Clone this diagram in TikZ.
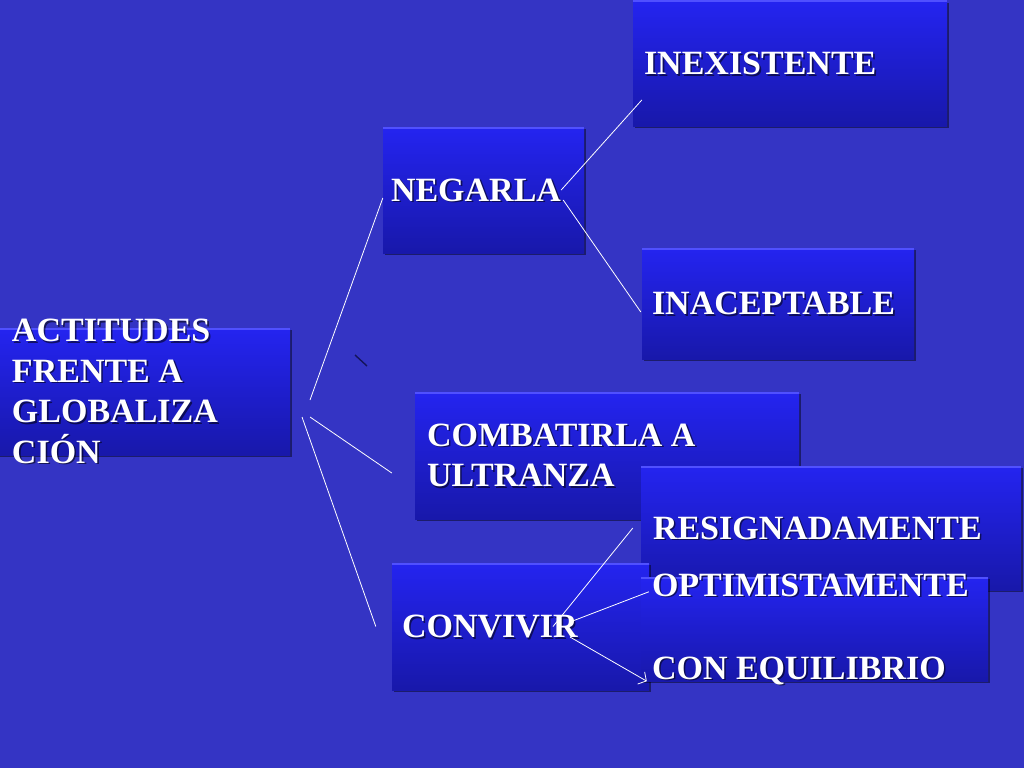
\documentclass[tikz,border=0pt]{standalone}
\usepackage{fontspec}
\setmainfont{Liberation Serif}
\usetikzlibrary{shadows,arrows.meta}

\definecolor{bg}{RGB}{52,52,196}
\definecolor{boxtop}{RGB}{36,36,240}
\definecolor{boxmid}{RGB}{32,32,226}
\definecolor{boxbot}{RGB}{24,24,170}
\definecolor{boxhi}{RGB}{80,80,255}
\definecolor{stroke}{RGB}{20,20,90}

\tikzset{
  box/.style={rectangle, inner sep=0pt, top color=boxtop, middle color=boxmid, bottom color=boxbot,
    drop shadow={shadow xshift=2pt, shadow yshift=-2pt, fill=black, opacity=0.45},
    path picture={\draw[boxhi, line width=3pt] (path picture bounding box.north west) -- (path picture bounding box.north east);}},
  txt/.style={anchor=west, inner sep=0pt, text=white, align=left,
    font=\fontsize{34}{40.5}\selectfont\bfseries},
  txtsh/.style={txt, text=black, opacity=0.55, xshift=1.6pt, yshift=-1.6pt},
  link/.style={draw=white, line width=0.8pt},
  stray/.style={draw=stroke, line width=1.4pt}
}

% text with its shadow: name, point, text
\newcommand\boxtext[3]{%
  \node[txtsh] (#1-s) at #2 {#3};
  \node[txt] (#1) at #2 {#3};}

\begin{document}
\begin{tikzpicture}[x=1pt, y=-1pt]
\useasboundingbox (0,0) rectangle (1024,768);
\fill[bg] (0,0) rectangle (1024,768);

% boxes
\node[box, minimum width=314pt, minimum height=125pt] (ini) at (790,63.5) {};
\node[box, minimum width=201pt, minimum height=126pt] (neg) at (483.5,190) {};
\node[box, minimum width=272pt, minimum height=111pt] (inac) at (778,303.5) {};
\node[box, minimum width=294pt, minimum height=127pt] (act) at (143,391.5) {};
\node[box, minimum width=384pt, minimum height=127pt] (comb) at (607,455.5) {};
\node[box, minimum width=380pt, minimum height=124pt] (res) at (831,528) {};
\node[box, minimum width=257pt, minimum height=127pt] (conv) at (520.5,626.5) {};
\node[box, minimum width=347pt, minimum height=104pt] (opt) at (814.5,629) {};

% texts
\boxtext{ini-t}{([xshift=11pt]ini.west)}{INEXISTENTE}
\boxtext{neg-t}{([xshift=8pt]neg.west)}{NEGARLA}
\boxtext{inac-t}{([xshift=10pt]inac.west)}{INACEPTABLE}
\boxtext{act-t}{([xshift=16pt]act.west)}{ACTITUDES\\FRENTE A\\GLOBALIZA\\CIÓN}
\boxtext{comb-t}{([xshift=12pt]comb.west)}{COMBATIRLA A\\ULTRANZA}
\boxtext{res-t}{([xshift=12pt]res.west)}{RESIGNADAMENTE}
\boxtext{conv-t}{([xshift=10pt]conv.west)}{CONVIVIR}
\boxtext{opt-t}{([xshift=11pt]opt.west)}{OPTIMISTAMENTE\\[42.5pt]CON EQUILIBRIO}

% connectors
\coordinate (a1) at (310,400);
\coordinate (a2) at (310,417);
\coordinate (a3) at (302,417);
\draw[link] (a1) -- ([yshift=-8pt]neg.west);
\draw[link] (a2) -- ([shift={(-23pt,-17.5pt)}]comb.west);
\draw[link] (a3) -- ([xshift=-16pt]conv.west);
\draw[link] ([xshift=-23pt]neg.east) -- ([shift={(9pt,-36.5pt)}]ini.west);
\draw[link] ([shift={(-21pt,-10pt)}]neg.east) -- ([shift={(-1pt,-8.5pt)}]inac.west);
\draw[link] ([xshift=32.5pt]conv.center) -- ([xshift=-8pt]res.west);
\draw[link] ([shift={(49.5pt,4.5pt)}]conv.center) -- ([shift={(8pt,-15pt)}]opt.north west);
\draw[link, -{Straight Barb[length=6pt, width=14pt]}] ([shift={(49.5pt,-10.5pt)}]conv.center) -- ([xshift=6pt]opt.south west);

\draw[stray] (355,355) -- (367,366);
\end{tikzpicture}
\end{document}
